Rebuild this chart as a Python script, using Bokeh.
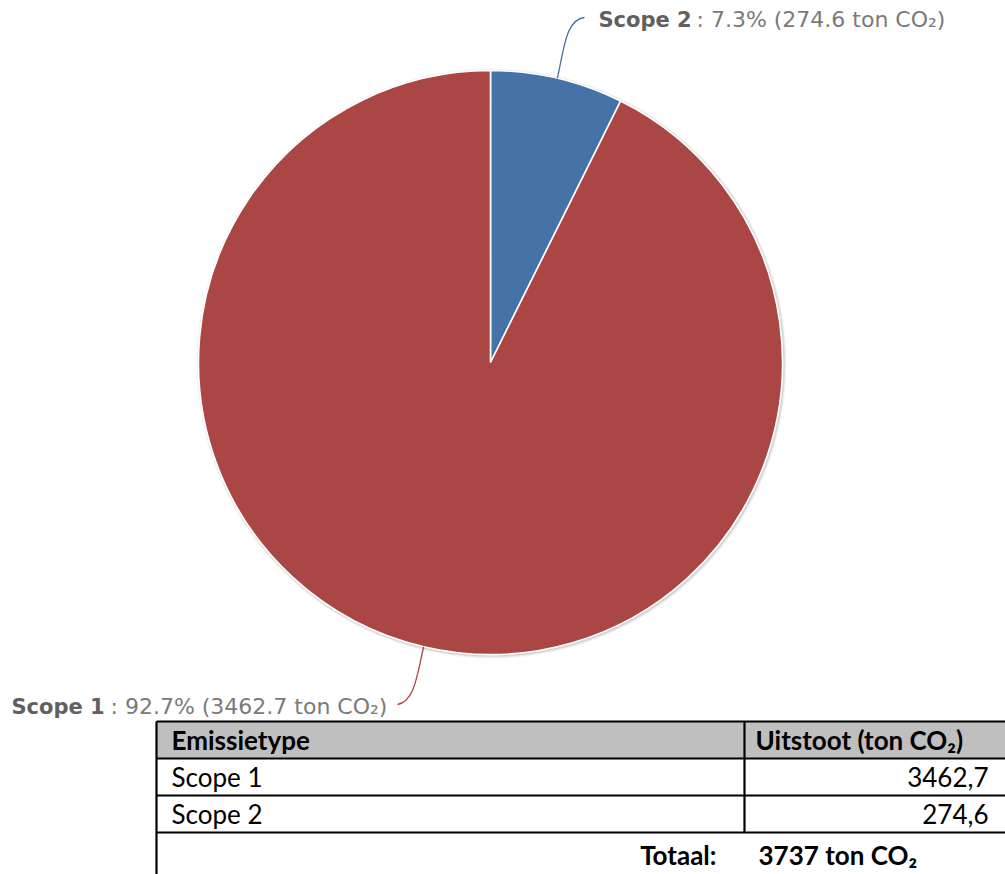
import math
from bokeh.plotting import figure
from bokeh.models import Range1d
from bokeh.core.properties import value
from bokeh.embed import file_html
from bokeh.resources import INLINE

# ---------------- data ----------------
categories = ["Scope 1", "Scope 2"]
emissions = [3462.7, 274.6]          # ton CO2
percents = [92.7, 7.3]
colors = ["#AA4643", "#4572A7"]
pie_order = [1, 0]                   # drawn clockwise from 12 o'clock
table_header = ["Emissietype", "Uitstoot (ton CO₂)"]
table_values = ["3462,7", "274,6"]
total_label = "Totaal:"
total_value = "3737 ton CO₂"

# ---------------- canvas ----------------
W, H = 1005, 874


def X(px):
    return px


def Y(py):
    return H - py


p = figure(width=W, height=H, x_range=Range1d(0, W), y_range=Range1d(0, H),
           output_backend="svg", toolbar_location=None, min_border=0)
p.axis.visible = False
p.grid.visible = False
p.outline_line_color = None
p.background_fill_color = "white"
p.border_fill_color = "white"

# ---------------- pie ----------------
cx, cy, r = X(490), Y(362), 292
total = sum(emissions)

# soft shadow
for lw, la in [(6, 0.04), (4, 0.06), (2, 0.08)]:
    p.circle(x=[cx + 1], y=[cy - 1], radius=r, fill_color=None,
             line_color="black", line_alpha=la, line_width=lw)

cum = 0.0
mids = {}
for i in pie_order:
    a0 = cum / total * 2 * math.pi
    cum += emissions[i]
    a1 = cum / total * 2 * math.pi
    p.wedge(x=[cx], y=[cy], radius=r,
            start_angle=[math.pi / 2 - a1], end_angle=[math.pi / 2 - a0],
            fill_color=colors[i], line_color="white", line_width=1.6)
    mids[i] = (a0 + a1) / 2

font_lbl = value("DejaVu Sans")


def edge(a, d=0):
    return (cx + (r + d) * math.sin(a), cy + (r + d) * math.cos(a))


# Scope 2 connector (top right)
x0, y0 = edge(mids[1])
xa, ya = edge(mids[1], 30)
p.bezier(x0=[x0], y0=[y0], x1=[X(584)], y1=[Y(17)], cx0=[xa], cy0=[ya],
         cx1=[X(565)], cy1=[Y(19)], line_color=colors[1], line_width=1.3)
# Scope 1 connector (bottom left)
x0, y0 = edge(mids[0])
xa, ya = edge(mids[0], 30)
p.bezier(x0=[x0], y0=[y0], x1=[X(397)], y1=[Y(704)], cx0=[xa], cy0=[ya],
         cx1=[X(414)], cy1=[Y(701)], line_color=colors[0], line_width=1.3)


def pie_label(i, xb, xn, yy):
    p.text(x=[X(xb)], y=[Y(yy)], text=[categories[i]], text_font=font_lbl,
           text_font_size="21px", text_font_style="bold", text_color="#606060",
           text_align="left", text_baseline="middle")
    p.text(x=[X(xn)], y=[Y(yy)],
           text=[f": {percents[i]:.1f}% ({emissions[i]:.1f} ton CO₂)"],
           text_font=font_lbl, text_font_size="22px", text_color="#7a7a7a",
           text_align="left", text_baseline="middle")


pie_label(1, 598, 696, 19)
pie_label(0, 11, 110, 706)

# ---------------- table ----------------
t_left, t_div, t_right = 156, 744, 1010
t_top = 721
rh = 37
rows = [t_top + k * rh for k in range(4)]
t_bottom = 900

p.quad(left=[X(t_left)], right=[X(t_right)], top=[Y(rows[0])], bottom=[Y(rows[1])],
       fill_color="#BFBFBF", line_color=None)

lw = 2.2
for yy in rows:
    p.segment(x0=[X(t_left)], y0=[Y(yy)], x1=[X(t_right)], y1=[Y(yy)],
              line_color="black", line_width=lw)
p.segment(x0=[X(t_left)], y0=[Y(rows[0])], x1=[X(t_left)], y1=[Y(t_bottom)],
          line_color="black", line_width=lw)
p.segment(x0=[X(t_div)], y0=[Y(rows[0])], x1=[X(t_div)], y1=[Y(rows[3])],
          line_color="black", line_width=lw)

font_tbl = value("Lato")
fs_tbl = "26px"


def cell(txt, xx, yy, align="left", bold=False):
    p.text(x=[X(xx)], y=[Y(yy)], text=[txt], text_font=font_tbl,
           text_font_size=fs_tbl, text_font_style="bold" if bold else "normal",
           text_color="black", text_align=align, text_baseline="middle")


cell(table_header[0], 171, rows[0] + rh / 2, bold=True)
cell(table_header[1], 755, rows[0] + rh / 2, bold=True)
for k in range(2):
    cell(categories[k], 171, rows[k + 1] + rh / 2)
    cell(table_values[k], 988, rows[k + 1] + rh / 2, align="right")
cell(total_label, 716, rows[3] + 22, align="right", bold=True)
cell(total_value, 758, rows[3] + 22, bold=True)

open("out.html", "w").write(file_html(p, INLINE))
